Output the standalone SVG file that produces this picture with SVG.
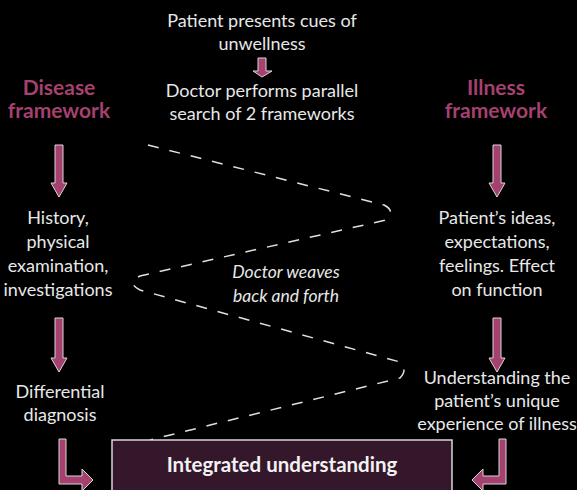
<svg xmlns="http://www.w3.org/2000/svg" width="577" height="490" viewBox="0 0 577 490">
<defs>
<style>
.t{font-family:Lato,"Open Sans","DejaVu Sans",sans-serif;font-size:18px;fill:#e8e8e8;text-anchor:middle}
.h{font-family:Lato,"Open Sans","DejaVu Sans",sans-serif;font-size:21px;font-weight:bold;fill:#a5416f;text-anchor:middle}
.i{font-style:italic;font-size:17.5px}
.ar{fill:#a5416f;stroke:#d8d8d8;stroke-width:1}
.dash{fill:none;stroke:#e0e0e0;stroke-width:1.5;stroke-dasharray:11 11}
</style>
</defs>
<rect width="577" height="490" fill="#000"/>
<g id="connectors">
<path class="dash" d="M148,145 L384,205 Q396,211 386,220 L140,276 Q126,283 140,290 L400,362 Q408,370 400,378 L150,440"/>
<polygon class="ar" points="258,58 266,58 266,71 272,71 262,77 253,71 258,71"/>
<polygon class="ar" points="55,145 63,145 63,183 67,183 59,197 51,183 55,183"/>
<polygon class="ar" points="55,318 63,318 63,358 67,358 59,372 51,358 55,358"/>
<polygon class="ar" points="493,145 501,145 501,183 505,183 497,197 489,183 493,183"/>
<polygon class="ar" points="493,318 501,318 501,358 505,358 497,372 489,358 493,358"/>
<polygon class="ar" points="59,439 66,439 66,476 82,476 82,469 93,480 82,491 82,484 59,484"/>
<polygon class="ar" points="499,439 506,439 506,484 483,484 483,491 472,480 483,469 483,476 499,476"/>
</g>
<g id="start">
<text class="t" x="262" y="27">Patient presents cues of</text>
<text class="t" x="262" y="50">unwellness</text>
</g>
<g id="doctor">
<text class="t" x="262" y="97">Doctor performs parallel</text>
<text class="t" x="262" y="120">search of 2 frameworks</text>
</g>
<g id="disease">
<text class="h" x="59" y="95">Disease</text>
<text class="h" x="59" y="118">framework</text>
</g>
<g id="illness">
<text class="h" x="496" y="95">Illness</text>
<text class="h" x="496" y="118">framework</text>
</g>
<g id="history">
<text class="t" x="58" y="224">History,</text>
<text class="t" x="58" y="248">physical</text>
<text class="t" x="58" y="272">examination,</text>
<text class="t" x="58" y="296">investigations</text>
</g>
<g id="ideas">
<text class="t" x="497" y="224">Patient’s ideas,</text>
<text class="t" x="497" y="248">expectations,</text>
<text class="t" x="497" y="272">feelings. Effect</text>
<text class="t" x="497" y="296">on function</text>
</g>
<g id="weaves">
<text class="t i" x="286" y="278">Doctor weaves</text>
<text class="t i" x="286" y="302">back and forth</text>
</g>
<g id="differential">
<text class="t" x="60" y="398">Differential</text>
<text class="t" x="60" y="421">diagnosis</text>
</g>
<g id="understanding">
<text class="t" x="497" y="384">Understanding the</text>
<text class="t" x="497" y="407">patient’s unique</text>
<text class="t" x="497" y="430">experience of illness</text>
</g>
<g id="integrated">
<rect x="112" y="440" width="340" height="60" fill="#34172a" stroke="#d8d8d8" stroke-width="1.5"/>
<text class="t" x="282" y="472" style="font-weight:bold;font-size:20.5px;fill:#f2f2f2">Integrated understanding</text>
</g>
</svg>
